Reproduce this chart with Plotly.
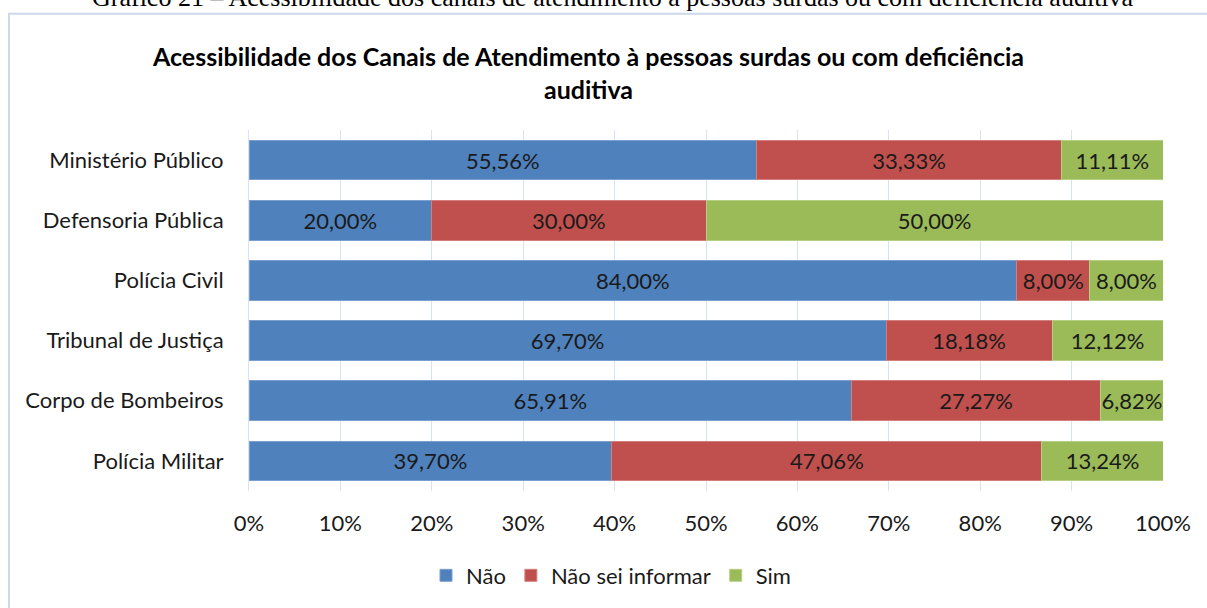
import plotly.graph_objects as go

categories = ["Ministério Público", "Defensoria Pública", "Polícia Civil",
              "Tribunal de Justiça", "Corpo de Bombeiros", "Polícia Militar"]
nao = [55.56, 20.00, 84.00, 69.70, 65.91, 39.70]
nao_sei = [33.33, 30.00, 8.00, 18.18, 27.27, 47.06]
sim = [11.11, 50.00, 8.00, 12.12, 6.82, 13.24]
tick_vals = [0, 10, 20, 30, 40, 50, 60, 70, 80, 90, 100]
tick_text = [f"{v}%" for v in tick_vals]

FONT = "Lato"
FS = 22
W, H = 1207, 608
L, R, T, B = 249, 1163, 130, 493


def px_x(p):
    return (p - L) / (R - L)


def px_y(p):
    return (B - p) / (B - T)


def fmt(v):
    return f"{v:.2f}%".replace(".", ",")


series = [
    ("Não", nao, "#4F81BD", "#7a9fd0"),
    ("Não sei informar", nao_sei, "#C0504D", "#d57f7c"),
    ("Sim", sim, "#9BBB59", "#b5cf85"),
]

fig = go.Figure()
for name, vals, col, lcol in series:
    fig.add_trace(go.Bar(
        y=categories, x=vals, name=name, orientation="h",
        marker=dict(color=col, line=dict(color=lcol, width=1)),
        text=[fmt(v) for v in vals], textposition="inside",
        insidetextanchor="middle", constraintext="none",
        textfont=dict(family=FONT, size=FS, color="#1a1a1a"),
        cliponaxis=False,
    ))

fig.update_layout(
    width=W, height=H,
    margin=dict(l=L, r=W - R, t=T, b=H - B),
    barmode="stack", bargap=0.34,
    plot_bgcolor="white", paper_bgcolor="white",
    font=dict(family=FONT, size=FS, color="#1a1a1a"),
    showlegend=True,
    legend=dict(orientation="h", x=px_x(611), xanchor="center",
                y=px_y(578), yanchor="middle",
                font=dict(family=FONT, size=FS, color="#1a1a1a"),
                itemwidth=30, traceorder="normal"),
    xaxis=dict(range=[0, 100], tickvals=tick_vals, ticktext=tick_text,
               showgrid=True, gridcolor="#d9e3f0", gridwidth=1,
               zeroline=False, showline=False, ticks="",
               ticklabelstandoff=17,
               tickfont=dict(family=FONT, size=FS, color="#1a1a1a"),
               fixedrange=True),
    yaxis=dict(autorange="reversed", showgrid=False, showline=True,
               linecolor="#d9e3f0", linewidth=1, ticks="",
               ticklabelstandoff=20,
               tickfont=dict(family=FONT, size=FS, color="#1a1a1a"),
               fixedrange=True),
    shapes=[dict(type="rect", xref="paper", yref="paper",
                 x0=px_x(9), x1=px_x(1215), y0=px_y(620), y1=px_y(13),
                 line=dict(color="#cdd8ea", width=2), fillcolor="rgba(0,0,0,0)",
                 layer="below")],
    annotations=[
        dict(text="<b>Acessibilidade dos Canais de Atendimento à pessoas surdas ou com deficiência<br>auditiva</b>",
             xref="paper", yref="paper", x=px_x(588), y=px_y(72),
             xanchor="center", yanchor="middle", showarrow=False,
             font=dict(family=FONT, size=25, color="#000000")),
        dict(text="Gráfico 21 – Acessibilidade dos canais de atendimento à pessoas surdas ou com deficiência auditiva",
             xref="paper", yref="paper", x=px_x(613), y=px_y(13),
             xanchor="center", yanchor="bottom", showarrow=False,
             font=dict(family="Liberation Serif", size=26, color="#000000")),
    ],
)

fig.write_html("out.html", config={"displayModeBar": False},
               post_script="document.body.style.margin='0';document.body.style.overflow='hidden';")
